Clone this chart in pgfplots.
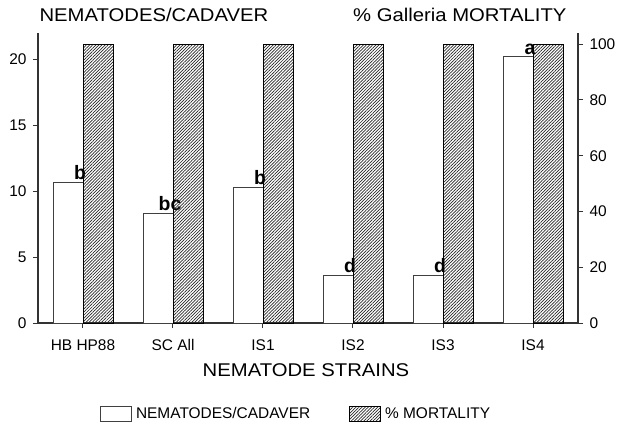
\documentclass[border=0pt]{standalone}
\usepackage{pgfplots}
\pgfplotsset{compat=1.18}
\usepackage{fontspec}
\setmainfont{Liberation Sans}
\usetikzlibrary{patterns.meta}
\pgfplotsset{
  common/.style={
    width=540bp, height=290bp, scale only axis,
    xmin=-0.5, xmax=5.5, ymin=0,
    /pgf/number format/assume math mode=true,
    tick align=outside, major tick length=5bp,
    axis line style={-, draw=black!80, line width=1.1bp},
    every tick/.style={draw=black!80, line width=1bp},
    ticklabel style={font=\fontsize{15.5}{18}\selectfont},
    clip=false,
  },
  hatch/.style={draw=black, line width=0.9bp, pattern={Lines[angle=45,distance=2.2bp,line width=0.7bp]}, pattern color=black!85},
  plain/.style={draw=black!75, line width=0.9bp, fill=white},
  boxlegend/.style={legend image code/.code={\draw[##1] (0bp,-7.5bp) rectangle (31bp,7.5bp);}},
}
\begin{document}
\begin{tikzpicture}
\useasboundingbox (-38bp,-104bp) rectangle (580bp,323bp);
% left axis: nematodes per cadaver
\begin{axis}[common,
  ymax=22,
  axis y line*=left, axis x line*=bottom,
  xtick={0,1,2,3,4,5},
  xticklabels={HB HP88, SC All, IS1, IS2, IS3, IS4},
  xticklabel style={yshift=-8bp},
  yticklabel style={xshift=-3bp},
  ytick={0,5,10,15,20},
  xlabel={\scalebox{1.1}[1]{NEMATODE STRAINS}},
  ylabel={\scalebox{1.1}[1]{NEMATODES/CADAVER}},
  every axis x label/.style={at={(rel axis cs:0.5,0)}, anchor=base, yshift=-53bp, xshift=-2bp, font=\fontsize{18.5}{20}\selectfont},
  every axis y label/.style={at={(rel axis cs:0,1)}, anchor=base west, yshift=11bp, xshift=-2bp, font=\fontsize{18.5}{20}\selectfont},
]
\addplot[ybar, bar width=0.333, bar shift=-0.1667, plain,
  nodes near coords, point meta=explicit symbolic,
  every node near coord/.append style={font=\bfseries\fontsize{19.5}{20}\selectfont, black, inner sep=2bp, xshift=-3bp}]
  table[x=x, y=y, meta=lab] {
x y lab
0 10.7 b
1 8.3 bc
2 10.3 b
3 3.6 d
4 3.6 d
5 20.2 a
};
\end{axis}
% right axis: % mortality
\begin{axis}[common,
  ymax=104,
  axis y line*=right, axis x line=none,
  xtick=\empty,
  ytick={0,20,40,60,80,100},
  yticklabel style={xshift=3bp},
  ylabel={\scalebox{1.1}[1]{\% Galleria MORTALITY}},
  every axis y label/.style={at={(rel axis cs:1,1)}, anchor=base east, yshift=11bp, xshift=-8bp, font=\fontsize{18.5}{20}\selectfont},
  legend style={draw=none, fill=none, at={(0.478,-0.314)}, anchor=center,
    legend columns=2, font=\fontsize{15.5}{18}\selectfont,
    /tikz/every even column/.append style={column sep=37bp}},
  legend cell align=left,
]
\addlegendimage{plain, boxlegend}
\addlegendentry{\hspace{2bp}NEMATODES/CADAVER}
\addplot[ybar, bar width=0.333, bar shift=0.1667, hatch, boxlegend]
  table[x=x, y=y] {
x y
0 100
1 100
2 100
3 100
4 100
5 100
};
\addlegendentry{\hspace{2bp}\% MORTALITY}
\end{axis}
\end{tikzpicture}
\end{document}
